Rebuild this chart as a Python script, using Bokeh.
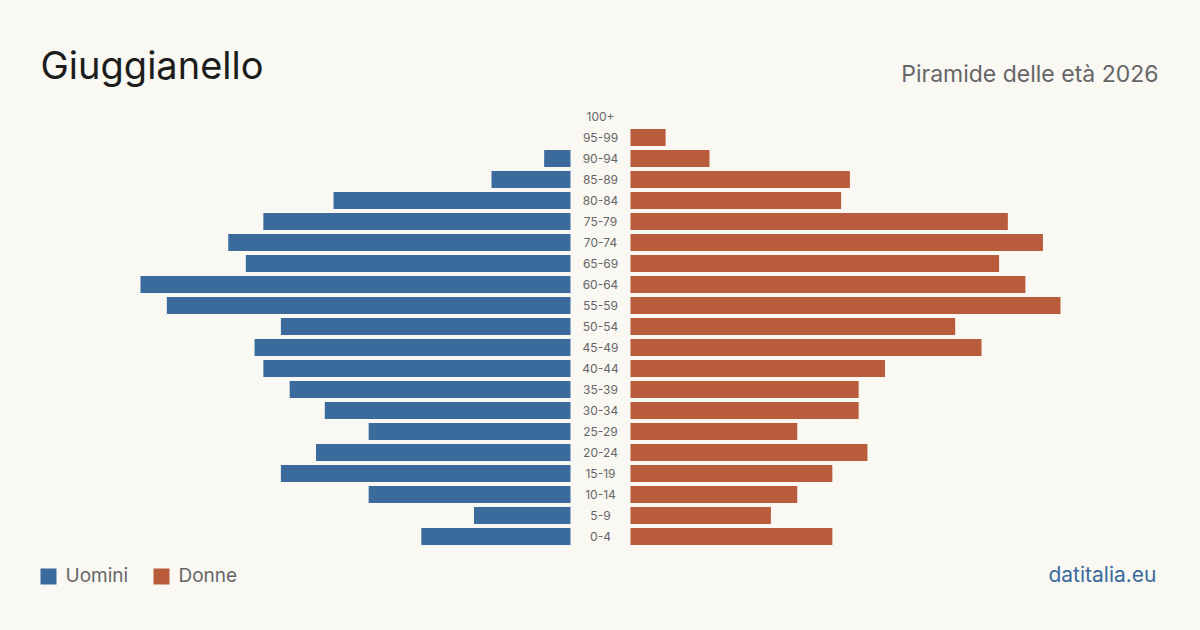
from bokeh.plotting import figure
from bokeh.models import Range1d, Label, ColumnDataSource
from bokeh.core.properties import value
from bokeh.embed import file_html
from bokeh.resources import INLINE

# Population of Giuggianello by age class (bottom to top)
age_classes = ["0-4", "5-9", "10-14", "15-19", "20-24", "25-29", "30-34", "35-39",
               "40-44", "45-49", "50-54", "55-59", "60-64", "65-69", "70-74",
               "75-79", "80-84", "85-89", "90-94", "95-99", "100+"]
men = [17, 11, 23, 33, 29, 23, 28, 32, 35, 36, 33, 46, 49, 37, 39, 35, 27, 9, 3, 0, 0]
women = [23, 16, 19, 23, 27, 19, 26, 26, 29, 40, 37, 49, 45, 42, 47, 43, 24, 25, 9, 4, 0]

BG = "#f9f8f3"
BLUE = "#3a6b9c"
ORANGE = "#b95c3b"
GREY = "#666666"
FONT = "Inter"

W, H = 1200, 630
CX = 600            # pixel column of the pyramid's axis
HALF_GAP = 30       # pixels between the axis and each side's bars
PX_PER_UNIT = 430 / max(max(men), max(women))
ROW = 21            # pixel pitch of one age class
Y0 = 536            # pixel row of the lowest class

gap = HALF_GAP / PX_PER_UNIT
idx = list(range(len(age_classes)))

src = ColumnDataSource(dict(
    y=idx,
    label=age_classes,
    m_left=[-gap - v for v in men],
    m_right=[-gap] * len(men),
    f_left=[gap] * len(women),
    f_right=[gap + v for v in women],
))

p = figure(width=W, height=H, output_backend="svg", toolbar_location=None,
           x_range=Range1d(-CX / PX_PER_UNIT, (W - CX) / PX_PER_UNIT),
           y_range=Range1d(-(H - Y0) / ROW, Y0 / ROW),
           x_axis_type=None, y_axis_type=None, min_border=0)
p.grid.visible = False
p.outline_line_color = None
p.background_fill_color = BG
p.border_fill_color = BG

bar_h = 17 / ROW
p.hbar(y="y", left="m_left", right="m_right", height=bar_h, source=src,
       fill_color=BLUE, line_color=None)
p.hbar(y="y", left="f_left", right="f_right", height=bar_h, source=src,
       fill_color=ORANGE, line_color=None)

p.text(x=0, y="y", text="label", source=src, text_align="center",
       text_baseline="middle", text_font=value(FONT), text_font_size="12px",
       text_color=GREY)


def px_to_data(px, py):
    return (px - CX) / PX_PER_UNIT, (Y0 - py) / ROW


def add_text(x, baseline, text, size, color, align="left"):
    # place a label by its baseline, measured in pixels from the top
    p.add_layout(Label(x=x, y=H - baseline + 0.42 * size, x_units="screen",
                       y_units="screen", text=text, text_font=FONT,
                       text_font_size=f"{size}px", text_color=color,
                       text_align=align, text_baseline="alphabetic"))


# Title and subtitle
add_text(40, 80, "Giuggianello", 38, "#1c1c1c")
add_text(1158, 83, "Piramide delle età 2026", 23, GREY, "right")

# Legend
for sx, color, name in [(48, BLUE, "Uomini"), (161, ORANGE, "Donne")]:
    dx, dy = px_to_data(sx, 576)
    p.scatter(x=[dx], y=[dy], marker="square", size=16, fill_color=color,
              line_color=None)
    add_text(sx + 17, 583, name, 19, GREY)

# Source credit
add_text(1156, 583, "datitalia.eu", 21, BLUE, "right")

open("out.html", "w").write(file_html(p, INLINE))
